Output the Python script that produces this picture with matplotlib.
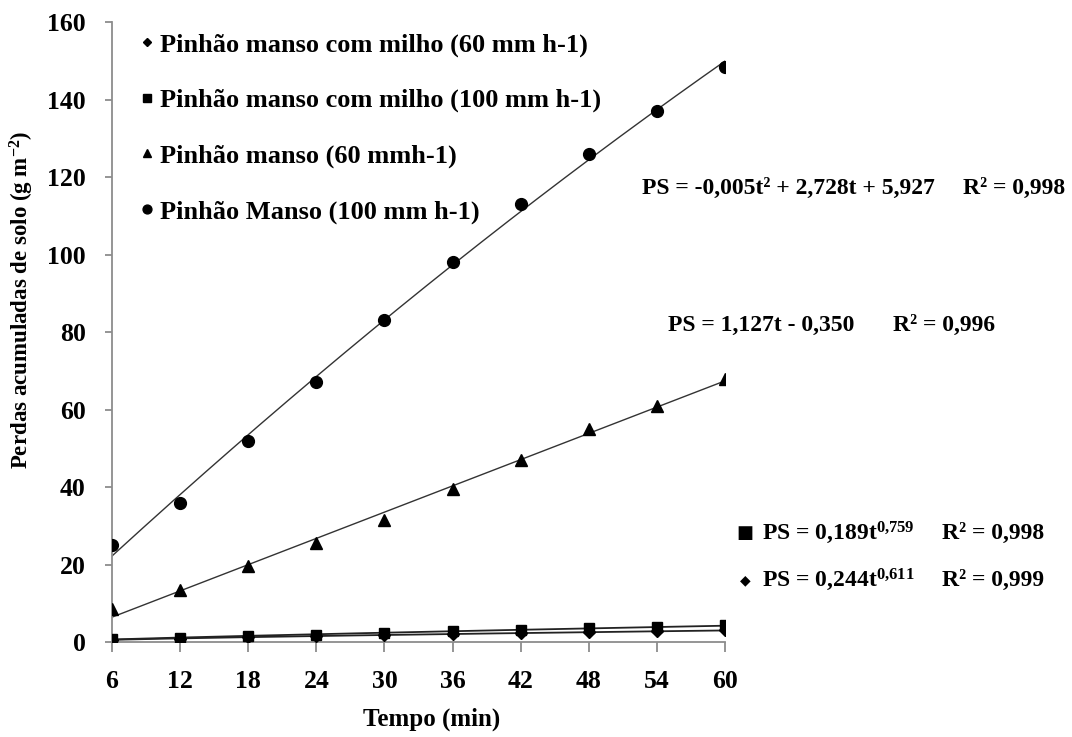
import matplotlib
import matplotlib.pyplot as plt
import numpy as np

matplotlib.use("Agg")

plt.rcParams["font.family"] = ["Liberation Serif", "DejaVu Sans"]
plt.rcParams["font.weight"] = "bold"
plt.rcParams["mathtext.fontset"] = "custom"
plt.rcParams["mathtext.rm"] = "Liberation Serif:bold"
plt.rcParams["mathtext.it"] = "Liberation Serif:bold"
plt.rcParams["mathtext.bf"] = "Liberation Serif:bold"

tempo = [6, 12, 18, 24, 30, 36, 42, 48, 54, 60]
milho_60 = [0.6, 0.9, 1.2, 1.5, 1.8, 2.1, 2.3, 2.6, 2.8, 3.0]
milho_100 = [0.7, 1.1, 1.5, 1.9, 2.4, 2.9, 3.2, 3.6, 3.8, 4.3]
manso_60 = [8.5, 13.5, 19.5, 25.5, 31.5, 39.5, 47.0, 55.0, 61.0, 68.0]
manso_100 = [25.0, 36.0, 52.0, 67.0, 83.0, 98.0, 113.0, 126.0, 137.0, 148.5]

labels = [
    "Pinhão manso com milho (60 mm h-1)",
    "Pinhão manso com milho (100 mm h-1)",
    "Pinhão manso (60 mmh-1)",
    "Pinhão Manso (100 mm h-1)",
]

W, H = 1072, 737
fig = plt.figure(figsize=(W / 100, H / 100), dpi=100)
ax = fig.add_axes([112 / W, 1 - 642 / H, (725 - 112) / W, (642 - 22) / H])

t = np.array(tempo, dtype=float)
tt = np.linspace(6, 60, 200)

# linhas de tendência (ajustadas aos dados)
a, b = np.polyfit(np.log(t), np.log(milho_60), 1)
ax.plot(tt, np.exp(b) * tt ** a, color="#222222", lw=1.3, zorder=2)
a, b = np.polyfit(np.log(t), np.log(milho_100), 1)
ax.plot(tt, np.exp(b) * tt ** a, color="#222222", lw=1.3, zorder=2)
p = np.polyfit(t, manso_60, 1)
ax.plot(tt, np.polyval(p, tt), color="#333333", lw=1.0, zorder=2)
p = np.polyfit(t, manso_100, 2)
ax.plot(tt, np.polyval(p, tt), color="#333333", lw=1.0, zorder=2)

ax.plot(tempo, milho_60, "D", color="black", ms=6, ls="none", label=labels[0], zorder=3)
ax.plot(tempo, milho_100, "s", color="black", ms=7.5, ls="none", label=labels[1], zorder=3)
ax.plot(tempo, manso_60, "^", color="black", ms=8.5, ls="none", label=labels[2], zorder=3)
ax.plot(tempo, manso_100, "o", color="black", ms=8.5, ls="none", label=labels[3], zorder=3)

ax.set_xlim(6, 60)
ax.set_ylim(0, 160)
ax.set_xticks(tempo)
ax.set_xticklabels([str(v) for v in tempo])
ax.set_yticks(np.arange(0, 161, 20))

for s in ["top", "right"]:
    ax.spines[s].set_visible(False)
for s in ["left", "bottom"]:
    ax.spines[s].set_color("#8c8c8c")
    ax.spines[s].set_linewidth(1.3)
ax.tick_params(axis="x", length=7, width=1.3, color="#8c8c8c", pad=13, labelsize=18.5)
ax.tick_params(axis="y", length=5, width=1.3, color="#8c8c8c", pad=14, labelsize=18.5)
for lab in ax.get_xticklabels() + ax.get_yticklabels():
    lab.set_fontweight("bold")
ax.patch.set_visible(False)

ax.set_xlabel("Tempo (min)", fontsize=18, fontweight="bold")
ax.xaxis.set_label_coords((432 - 112) / (725 - 112), -(708 - 642) / (642 - 22))
ax.set_ylabel("Perdas acumuladas de solo (g m$^{-2}$)", fontsize=16.5,
              fontweight="bold")
ax.yaxis.set_label_coords(-(112 - 36) / (725 - 112), (642 - 300) / (642 - 22))

leg = fig.legend(*ax.get_legend_handles_labels(), loc="upper left",
                 bbox_to_anchor=(139 / W, 1 - 33 / H), frameon=False,
                 fontsize=19, markerscale=0.75, handlelength=0.6, handletextpad=0.2,
                 labelspacing=1.2, borderaxespad=0, borderpad=0)
for txt in leg.get_texts():
    txt.set_fontweight("bold")

eq_kw = dict(fontsize=17, fontweight="bold", va="center", ha="left")
fig.text(642 / W, 1 - 188 / H, "PS = -0,005t² + 2,728t + 5,927", **eq_kw)
fig.text(963 / W, 1 - 188 / H, "R² = 0,998", **eq_kw)
fig.text(668 / W, 1 - 325 / H, "PS = 1,127t - 0,350", **eq_kw)
fig.text(893 / W, 1 - 325 / H, "R² = 0,996", **eq_kw)
fig.text(745 / W, 1 - 533 / H, "■", fontsize=13, va="center", ha="center",
         family=["DejaVu Sans"])
fig.text(762 / W, 1 - 533 / H, r"PS = 0,189t$^{0{,}759}$", **eq_kw)
fig.text(942 / W, 1 - 533 / H, "R² = 0,998", **eq_kw)
fig.text(745 / W, 1 - 580 / H, "◆", fontsize=10, va="center", ha="center",
         family=["DejaVu Sans"])
fig.text(762 / W, 1 - 580 / H, r"PS = 0,244t$^{0{,}611}$", **eq_kw)
fig.text(942 / W, 1 - 580 / H, "R² = 0,999", **eq_kw)

fig.savefig("out.png", dpi=100)
plt.close(fig)
